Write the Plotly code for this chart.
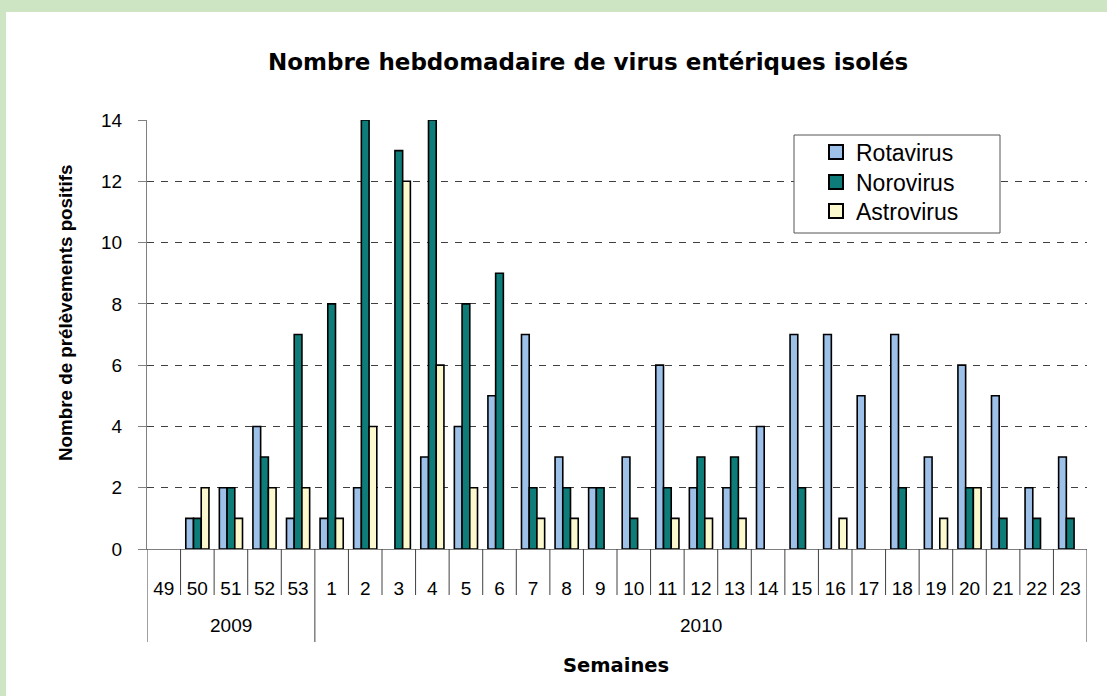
import plotly.graph_objects as go

weeks = ["49", "50", "51", "52", "53", "1", "2", "3", "4", "5", "6", "7", "8", "9",
         "10", "11", "12", "13", "14", "15", "16", "17", "18", "19", "20", "21", "22", "23"]
years = ["2009"] * 5 + ["2010"] * 23
rotavirus = [0, 1, 2, 4, 1, 1, 2, 0, 3, 4, 5, 7, 3, 2, 3, 6, 2, 2, 4, 7, 7, 5, 7, 3, 6, 5, 2, 3]
norovirus = [0, 1, 2, 3, 7, 8, 14, 13, 14, 8, 9, 2, 2, 2, 1, 2, 3, 3, 0, 2, 0, 0, 2, 0, 2, 1, 1, 1]
astrovirus = [0, 2, 1, 2, 2, 1, 4, 12, 6, 2, 0, 1, 1, 0, 0, 1, 1, 1, 0, 0, 1, 0, 0, 1, 2, 0, 0, 0]
y_ticks = [0, 2, 4, 6, 8, 10, 12, 14]

FONT = "Liberation Sans, Arial, sans-serif"
BOLD = "DejaVu Sans, Liberation Sans, Arial, sans-serif"
W, H = 1107, 696
L, R, T, B = 147, 20, 120, 147
PW, PH = W - L - R, H - T - B


def px(xp):
    return (xp - L) / PW


def py(yp):
    return (T + PH - yp) / PH


x = list(range(len(weeks)))
fig = go.Figure()
series = [("Rotavirus", rotavirus, "#9DC1E8", "legend", 152),
          ("Norovirus", norovirus, "#0E7D79", "legend2", 182),
          ("Astrovirus", astrovirus, "#FCF9CE", "legend3", 211)]
legend_cfg = {}
for name, vals, col, lg, ly in series:
    fig.add_trace(go.Bar(x=x, y=[v if v else None for v in vals], name=name,
                         showlegend=False,
                         marker=dict(color=col, line=dict(color="#000000", width=1.6))))
    # legend entry with a square key like the original
    fig.add_trace(go.Scatter(x=[None], y=[None], mode="markers", name=name, legend=lg,
                             showlegend=True, hoverinfo="skip",
                             marker=dict(symbol="square", size=14, color=col,
                                         line=dict(color="#000000", width=2))))
    legend_cfg[lg] = dict(x=px(816), y=py(ly), xanchor="left", yanchor="middle",
                          bgcolor="rgba(0,0,0,0)", borderwidth=0, itemsizing="trace",
                          font=dict(family=FONT, size=23, color="#000000"))

shapes = []
# background panel (green border at top/left)
shapes.append(dict(type="rect", xref="paper", yref="paper", layer="below",
                   x0=px(6), x1=px(W + 5), y0=py(H + 5), y1=py(12),
                   fillcolor="#FFFFFF", line=dict(width=0)))
# week separators
for i in range(1, len(weeks)):
    if years[i] != years[i - 1]:
        continue
    shapes.append(dict(type="line", xref="x", yref="paper", x0=i - 0.5, x1=i - 0.5,
                       y0=0, y1=py(595), line=dict(color="#404040", width=1)))
# year dividers
bounds = [0] + [i for i in range(1, len(weeks)) if years[i] != years[i - 1]] + [len(weeks)]
for b in bounds:
    shapes.append(dict(type="line", xref="x", yref="paper", x0=b - 0.5, x1=b - 0.5,
                       y0=0, y1=py(642), line=dict(color="#404040", width=1)))
# legend box
shapes.append(dict(type="rect", xref="paper", yref="paper", layer="above",
                   x0=px(794), x1=px(1000), y0=py(233), y1=py(135),
                   fillcolor="#FFFFFF", line=dict(color="#555555", width=1)))

annotations = []
for k in range(len(bounds) - 1):
    a, b = bounds[k], bounds[k + 1]
    annotations.append(dict(text=years[a], xref="x", yref="paper", x=(a + b - 1) / 2,
                            y=py(625), showarrow=False, xanchor="center", yanchor="middle",
                            font=dict(family=FONT, size=19, color="#000000")))
annotations.append(dict(text="<b>Nombre hebdomadaire de virus entériques isolés</b>",
                        xref="paper", yref="paper", x=px(588), y=py(62), showarrow=False,
                        xanchor="center", yanchor="middle",
                        font=dict(family=BOLD, size=23, color="#000000")))
annotations.append(dict(text="<b>Semaines</b>", xref="paper", yref="paper", x=px(616),
                        y=py(665), showarrow=False, xanchor="center", yanchor="middle",
                        font=dict(family=BOLD, size=19.5, color="#000000")))
annotations.append(dict(text="<b>Nombre de prélèvements positifs</b>", xref="paper",
                        yref="paper", x=px(65), y=py(313), showarrow=False, textangle=-90,
                        xanchor="center", yanchor="middle",
                        font=dict(family=FONT, size=18.8, color="#000000")))

fig.update_layout(
    width=W, height=H,
    margin=dict(l=L, r=R, t=T, b=B, pad=0),
    paper_bgcolor="#CDE5C3",
    plot_bgcolor="rgba(0,0,0,0)",
    barmode="group", bargap=0.31, bargroupgap=0,
    showlegend=True,
    shapes=shapes,
    annotations=annotations,
    font=dict(family=FONT, color="#000000"),
    **legend_cfg,
)
fig.update_xaxes(range=[-0.5, len(weeks) - 0.5], tickmode="array", tickvals=x, ticktext=weeks,
                 showgrid=False, zeroline=False, showline=True, linecolor="#808080",
                 linewidth=1, ticks="outside", ticklen=22, tickcolor="rgba(0,0,0,0)",
                 tickfont=dict(family=FONT, size=19, color="#000000"))
fig.update_yaxes(range=[0, 14], tickmode="array", tickvals=y_ticks, showgrid=True,
                 gridcolor="#404040", griddash="7px,7px", gridwidth=1, zeroline=False,
                 showline=True, linecolor="#808080", linewidth=1, ticks="outside",
                 ticklen=8, tickcolor="#808080", ticklabelstandoff=12,
                 tickfont=dict(family=FONT, size=19, color="#000000"))

fig.write_html("out.html", config={"displayModeBar": False},
               post_script="document.body.style.margin='0';document.body.style.padding='0';")
